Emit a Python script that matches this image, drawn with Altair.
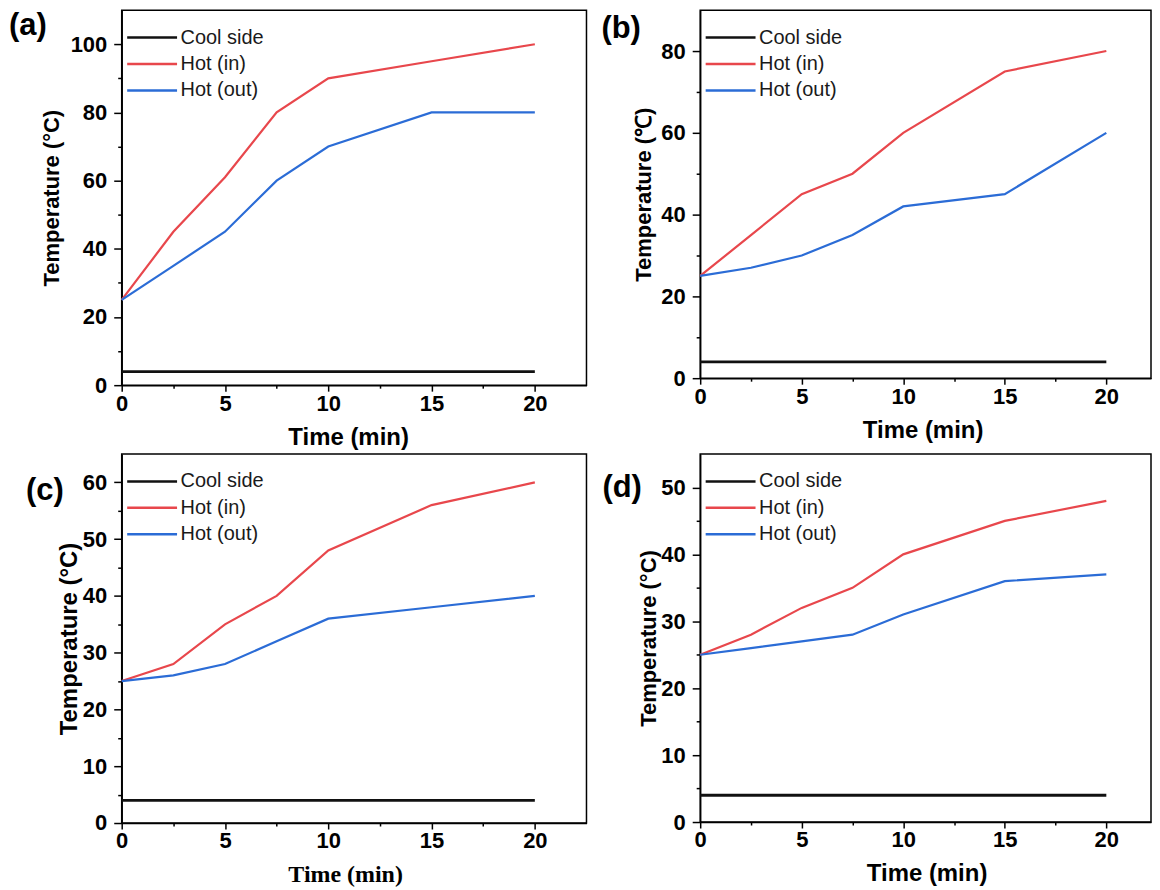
import altair as alt
import pandas as pd

# ---------------- data ----------------
TIME = [0, 2.5, 5, 7.5, 10, 15, 20]
SERIES = ["Cool side", "Hot (in)", "Hot (out)"]
COLORS = ["#111111", "#e8474c", "#2b6cd6"]

A_COOL = [4, 4, 4, 4, 4, 4, 4]
A_IN = [25, 45, 61, 80, 90, 95, 100]
A_OUT = [25, 35, 45, 60, 70, 80, 80]

B_COOL = [4, 4, 4, 4, 4, 4, 4]
B_IN = [25, 35, 45, 50, 60, 75, 80]
B_OUT = [25, 27, 30, 35, 42, 45, 60]

C_COOL = [4, 4, 4, 4, 4, 4, 4]
C_IN = [25, 28, 35, 40, 48, 56, 60]
C_OUT = [25, 26, 28, 32, 36, 38, 40]

D_COOL = [4, 4, 4, 4, 4, 4, 4]
D_IN = [25, 28, 32, 35, 40, 45, 48]
D_OUT = [25, 26, 27, 28, 31, 36, 37]

X_TICKS = [0, 2.5, 5, 7.5, 10, 12.5, 15, 17.5, 20]
A_YTICKS = [0, 10, 20, 30, 40, 50, 60, 70, 80, 90, 100]
B_YTICKS = [0, 10, 20, 30, 40, 50, 60, 70, 80]
C_YTICKS = [0, 5, 10, 15, 20, 25, 30, 35, 40, 45, 50, 55, 60]
D_YTICKS = [0, 5, 10, 15, 20, 25, 30, 35, 40, 45, 50]

SANS = "Liberation Sans"
SERIF = "Liberation Serif"


def frame(cool, hin, hout):
    rows = []
    for name, vals in zip(SERIES, [cool, hin, hout]):
        for t, v in zip(TIME, vals):
            rows.append({"time": t, "temp": v, "series": name})
    return pd.DataFrame(rows)


def panel(tag, cool, hin, hout, yticks, ymax, ymajor, width, height, xmax,
          ytitle, ytitle_size, xfont, tag_dx, tag_dy, ytitle_x, xtitle_x):
    df = frame(cool, hin, hout)
    xaxis = alt.Axis(
        values=X_TICKS,
        labelExpr="datum.value % 5 === 0 ? datum.label : ''",
        tickSize={"condition": {"test": "datum.value % 5 === 0", "value": 6}, "value": 3},
        tickWidth=1.5, tickColor="black",
        domainColor="black", domainWidth=1.5,
        labelFont=SANS, labelFontSize=22, labelFontWeight="bold", labelColor="black",
        labelPadding=2, labelFlush=False, labelOverlap=False,
        title="Time (min)", titleFont=xfont, titleFontSize=24, titleFontWeight="bold",
        titleColor="black", titleX=xtitle_x, titleY=52, titleBaseline="middle",
        titleAlign="center", grid=False,
    )
    yaxis = alt.Axis(
        values=yticks,
        labelExpr="datum.value %% %d === 0 ? datum.label : ''" % ymajor,
        tickSize={"condition": {"test": "datum.value %% %d === 0" % ymajor, "value": 8}, "value": 4},
        tickWidth=1.5, tickColor="black",
        domainColor="black", domainWidth=1.5,
        labelFont=SANS, labelFontSize=22, labelFontWeight="bold", labelColor="black",
        labelPadding=7, labelFlush=False, labelOverlap=False,
        title=ytitle, titleFont=SANS, titleFontSize=ytitle_size, titleFontWeight="bold",
        titleColor="black", titleX=ytitle_x, titleY=height / 2, titleBaseline="middle",
        titleAlign="center", titleAngle=270, grid=False,
    )
    legend = alt.Legend(
        title=None, orient="none", direction="vertical",
        legendX=16.5, legendY=13.5, padding=0,
        symbolType="M-2,0L2,0", symbolSize=625, symbolStrokeWidth=2.5,
        labelFont=SANS, labelFontSize=20, labelColor="#1a1a1a",
        labelOffset=14.5, rowPadding=2.5, labelLimit=0,
    )
    lines = (
        alt.Chart(df)
        .mark_line()
        .encode(
            x=alt.X("time:Q", scale=alt.Scale(domain=[0, xmax], nice=False, zero=False), axis=xaxis),
            y=alt.Y("temp:Q", scale=alt.Scale(domain=[0, ymax], nice=False), axis=yaxis),
            color=alt.Color("series:N", scale=alt.Scale(domain=SERIES, range=COLORS), legend=legend),
            strokeWidth=alt.condition("datum.series === 'Cool side'", alt.value(2.8), alt.value(2.2)),
        )
    )
    label = (
        alt.Chart(pd.DataFrame({"tag": [tag]}))
        .mark_text(align="left", baseline="middle", font=SANS, fontSize=31,
                   fontWeight="bold", color="black")
        .encode(x=alt.value(tag_dx), y=alt.value(tag_dy), text="tag:N")
    )
    return alt.layer(lines, label).properties(width=width, height=height)


pa = panel("(a)", A_COOL, A_IN, A_OUT, A_YTICKS, 110, 20, 466, 376, 22.5,
           "Temperature (°C)", 22, SANS, -113, 16, -70.5, 227)
pb = panel("(b)", B_COOL, B_IN, B_OUT, B_YTICKS, 90, 20, 452, 369, 22.2,
           "Temperature (℃)", 22, SANS, -99, 19, -56.5, 223)
pc = panel("(c)", C_COOL, C_IN, C_OUT, C_YTICKS, 65, 10, 466, 370, 22.5,
           "Temperature (°C)", 24, SERIF, -96, 37, -52, 224)
pd_ = panel("(d)", D_COOL, D_IN, D_OUT, D_YTICKS, 55, 10, 452, 369, 22.2,
            "Temperature (°C)", 22, SANS, -98, 34, -52, 227)

chart = (
    alt.concat(pa, pb, pc, pd_, columns=2, spacing={"row": 69, "column": 114})
    .resolve_scale(color="independent", x="independent", y="independent")
    .properties(align="none", bounds="flush", padding=0, background="white")
    .configure_view(stroke="black", strokeWidth=1.5)
)

chart.save("out.html", embed_options={"renderer": "svg", "actions": False})
